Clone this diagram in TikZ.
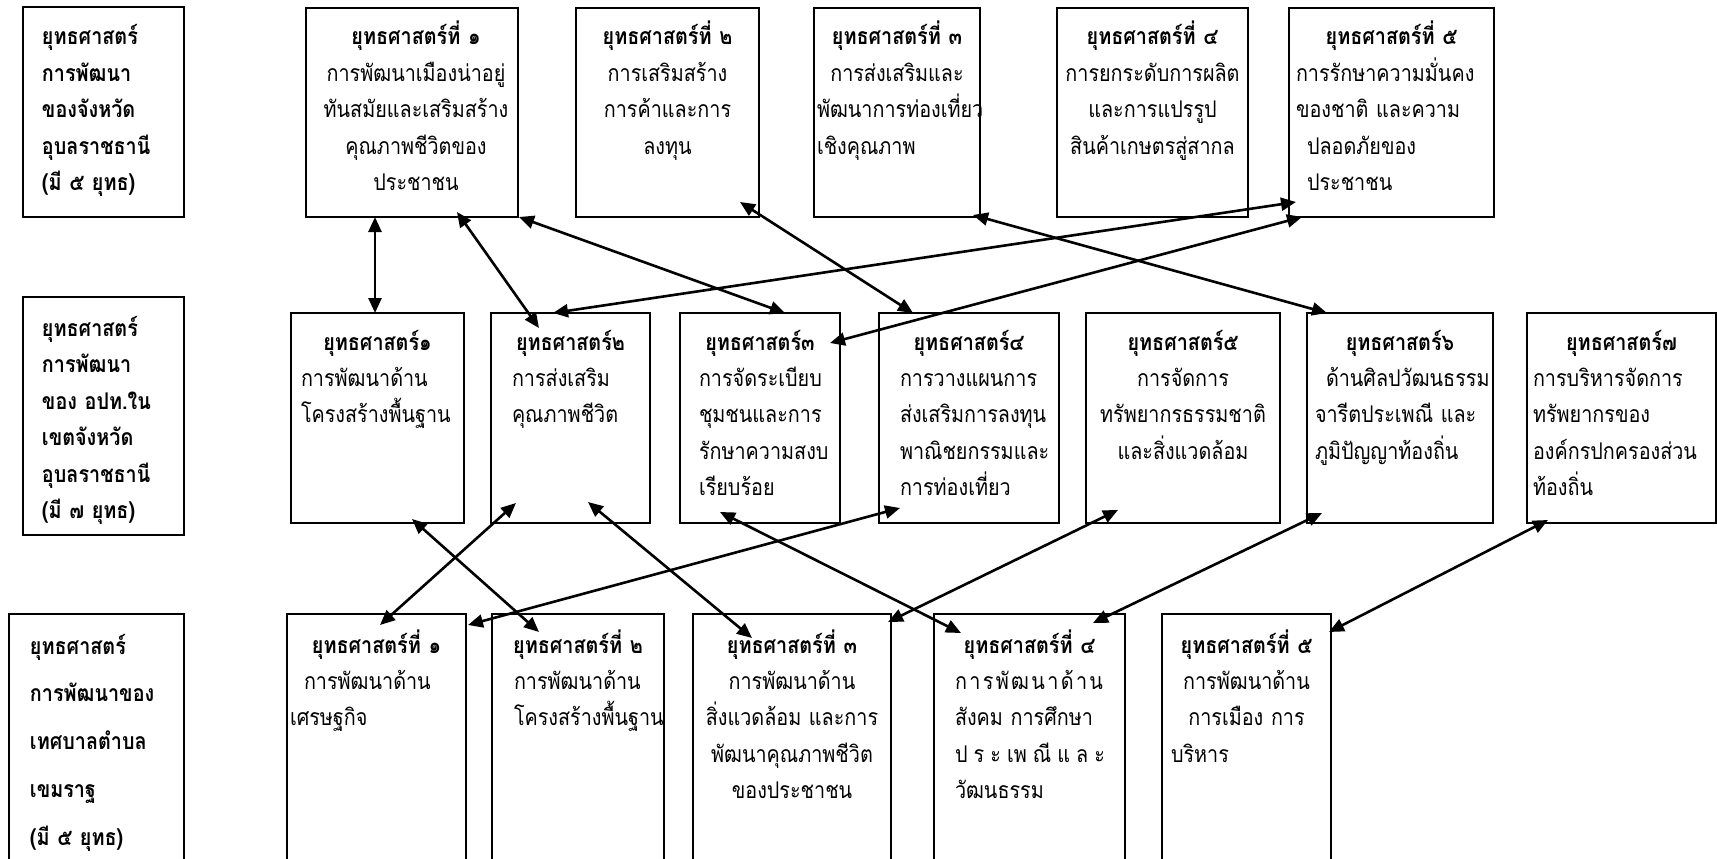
\documentclass[tikz,border=0pt]{standalone}
\usepackage{fontspec}
\newfontfamily\thai[Script=Thai,FakeStretch=0.86]{Loma}
\usetikzlibrary{arrows.meta,calc}
\newcommand\tcen[1]{\makebox[\linewidth][c]{#1}}
\newcommand\tind[2]{\hspace*{#1pt}#2}
\newcommand\fst{\rule{0pt}{24pt}}
\begin{document}
\begin{tikzpicture}[x=1pt,y=-1pt,
 box/.style={draw, line width=1.8pt, rectangle, inner sep=0pt, outer sep=0pt, anchor=north west},
 txt/.style={anchor=north west, inner sep=0pt, outer sep=0pt, align=left, font=\thai\fontsize{23}{36.4}\selectfont},
 lbl/.style={txt, font=\thai\bfseries\fontsize{23}{36.5}\selectfont},
 link/.style={{Triangle[length=15pt,width=13pt]}-{Triangle[length=15pt,width=13pt]}, line width=2.6pt}]
\clip (0,0) rectangle (1717,859);
\fill[white] (0,0) rectangle (1717,859);
% ---------- top row ----------
\node[box, minimum width=161pt, minimum height=210pt] (TL) at (23,7) {};
\node[box, minimum width=212pt, minimum height=209pt] (T1) at (306,8) {};
\node[box, minimum width=183pt, minimum height=209pt] (T2) at (576,8) {};
\node[box, minimum width=166pt, minimum height=209pt] (T3) at (814,8) {};
\node[box, minimum width=191pt, minimum height=209pt] (T4) at (1057,8) {};
\node[box, minimum width=205pt, minimum height=209pt] (T5) at (1289,8) {};
% ---------- middle row ----------
\node[box, minimum width=161pt, minimum height=238pt] (ML) at (23,297) {};
\node[box, minimum width=173pt, minimum height=210pt] (M1) at (291,313) {};
\node[box, minimum width=159pt, minimum height=210pt] (M2) at (491,313) {};
\node[box, minimum width=160pt, minimum height=210pt] (M3) at (680,313) {};
\node[box, minimum width=180pt, minimum height=210pt] (M4) at (879,313) {};
\node[box, minimum width=194pt, minimum height=210pt] (M5) at (1086,313) {};
\node[box, minimum width=186pt, minimum height=210pt] (M6) at (1307,313) {};
\node[box, minimum width=189pt, minimum height=210pt] (M7) at (1527,313) {};
% ---------- bottom row ----------
\node[box, minimum width=175pt, minimum height=260pt] (BL) at (9,614) {};
\node[box, minimum width=179pt, minimum height=260pt] (B1) at (287,614) {};
\node[box, minimum width=172pt, minimum height=260pt] (B2) at (492,614) {};
\node[box, minimum width=198pt, minimum height=260pt] (B3) at (693,614) {};
\node[box, minimum width=191pt, minimum height=260pt] (B4) at (934,614) {};
\node[box, minimum width=169pt, minimum height=260pt] (B5) at (1162,614) {};
% ---------- texts: top ----------
\node[lbl, text width=161pt] (TLt) at ($(TL.north west)+(0,14)$) {\tind{19}{\fst ยุทธศาสตร์}\\ \tind{19}{การพัฒนา}\\ \tind{19}{ของจังหวัด}\\ \tind{19}{อุบลราชธานี}\\ \tind{19}{(มี ๕ ยุทธ)}};
\node[txt, text width=212pt] (T1t) at ($(T1.north west)+(4,13)$) {\tcen{\fst\textbf{ยุทธศาสตร์ที่ ๑}}\\ \tcen{การพัฒนาเมืองน่าอยู่}\\ \tcen{ทันสมัยและเสริมสร้าง}\\ \tcen{คุณภาพชีวิตของ}\\ \tcen{ประชาชน}};
\node[txt, text width=183pt] (T2t) at ($(T2.north west)+(0,13)$) {\tcen{\fst\textbf{ยุทธศาสตร์ที่ ๒}}\\ \tcen{การเสริมสร้าง}\\ \tcen{การค้าและการ}\\ \tcen{ลงทุน}};
\node[txt, text width=166pt] (T3t) at ($(T3.north west)+(0,13)$) {\tcen{\fst\textbf{ยุทธศาสตร์ที่ ๓}}\\ \tcen{การส่งเสริมและ}\\ \tind{3}{พัฒนาการท่องเที่ยว}\\ \tind{3}{เชิงคุณภาพ}};
\node[txt, text width=191pt] (T4t) at ($(T4.north west)+(0,13)$) {\tcen{\fst\textbf{ยุทธศาสตร์ที่ ๔}}\\ \tcen{การยกระดับการผลิต}\\ \tcen{และการแปรรูป}\\ \tcen{สินค้าเกษตรสู่สากล}};
\node[txt, text width=205pt] (T5t) at ($(T5.north west)+(0,13)$) {\tcen{\fst\textbf{ยุทธศาสตร์ที่ ๕}}\\ \tind{7}{การรักษาความมั่นคง}\\ \tind{7}{ของชาติ และความ}\\ \tind{18}{ปลอดภัยของ}\\ \tind{18}{ประชาชน}};
% ---------- texts: middle ----------
\node[lbl, text width=161pt] (MLt) at ($(ML.north west)+(0,15)$) {\tind{19}{\fst ยุทธศาสตร์}\\ \tind{19}{การพัฒนา}\\ \tind{19}{ของ อปท.ใน}\\ \tind{19}{เขตจังหวัด}\\ \tind{19}{อุบลราชธานี}\\ \tind{19}{(มี ๗ ยุทธ)}};
\node[txt, text width=173pt] (M1t) at ($(M1.north west)+(0,13)$) {\tcen{\fst\textbf{ยุทธศาสตร์๑}}\\ \tind{10}{การพัฒนาด้าน}\\ \tind{10}{โครงสร้างพื้นฐาน}};
\node[txt, text width=159pt] (M2t) at ($(M2.north west)+(0,13)$) {\tcen{\fst\textbf{ยุทธศาสตร์๒}}\\ \tind{21}{การส่งเสริม}\\ \tind{21}{คุณภาพชีวิต}};
\node[txt, text width=160pt] (M3t) at ($(M3.north west)+(0,13)$) {\tcen{\fst\textbf{ยุทธศาสตร์๓}}\\ \tind{19}{การจัดระเบียบ}\\ \tind{19}{ชุมชนและการ}\\ \tind{19}{รักษาความสงบ}\\ \tind{19}{เรียบร้อย}};
\node[txt, text width=180pt] (M4t) at ($(M4.north west)+(0,13)$) {\tcen{\fst\textbf{ยุทธศาสตร์๔}}\\ \tind{21}{การวางแผนการ}\\ \tind{21}{ส่งเสริมการลงทุน}\\ \tind{21}{พาณิชยกรรมและ}\\ \tind{21}{การท่องเที่ยว}};
\node[txt, text width=194pt] (M5t) at ($(M5.north west)+(0,13)$) {\tcen{\fst\textbf{ยุทธศาสตร์๕}}\\ \tcen{การจัดการ}\\ \tcen{ทรัพยากรธรรมชาติ}\\ \tcen{และสิ่งแวดล้อม}};
\node[txt, text width=186pt] (M6t) at ($(M6.north west)+(0,13)$) {\tcen{\fst\textbf{ยุทธศาสตร์๖}}\\ \tind{19}{ด้านศิลปวัฒนธรรม}\\ \tind{8}{จารีตประเพณี และ}\\ \tind{8}{ภูมิปัญญาท้องถิ่น}};
\node[txt, text width=189pt] (M7t) at ($(M7.north west)+(0,13)$) {\tcen{\fst\textbf{ยุทธศาสตร์๗}}\\ \tind{6}{การบริหารจัดการ}\\ \tind{6}{ทรัพยากรของ}\\ \tind{6}{องค์กรปกครองส่วน}\\ \tind{6}{ท้องถิ่น}};
% ---------- texts: bottom ----------
\node[lbl, text width=175pt, font=\thai\bfseries\fontsize{23}{47.8}\selectfont] (BLt) at ($(BL.north west)+(0,16)$) {\tind{21}{\fst ยุทธศาสตร์}\\ \tind{21}{การพัฒนาของ}\\ \tind{21}{เทศบาลตำบล}\\ \tind{21}{เขมราฐ}\\ \tind{21}{(มี ๕ ยุทธ)}};
\node[txt, text width=179pt] (B1t) at ($(B1.north west)+(0,15)$) {\tcen{\fst\textbf{ยุทธศาสตร์ที่ ๑}}\\ \tind{17}{การพัฒนาด้าน}\\ \tind{3}{เศรษฐกิจ}};
\node[txt, text width=172pt] (B2t) at ($(B2.north west)+(0,15)$) {\tcen{\fst\textbf{ยุทธศาสตร์ที่ ๒}}\\ \tind{22}{การพัฒนาด้าน}\\ \tind{22}{โครงสร้างพื้นฐาน}};
\node[txt, text width=198pt] (B3t) at ($(B3.north west)+(0,15)$) {\tcen{\fst\textbf{ยุทธศาสตร์ที่ ๓}}\\ \tcen{การพัฒนาด้าน}\\ \tcen{สิ่งแวดล้อม และการ}\\ \tcen{พัฒนาคุณภาพชีวิต}\\ \tcen{ของประชาชน}};
\node[txt, text width=191pt] (B4t) at ($(B4.north west)+(0,15)$) {\tcen{\fst\textbf{ยุทธศาสตร์ที่ ๔}}\\ \tind{21}{\hbox to 148pt{ก\hfill า\hfill ร\hfill พั\hfill ฒ\hfill น\hfill า\hfill ด้\hfill า\hfill น}}\\ \tind{21}{สังคม การศึกษา}\\ \tind{21}{\hbox to 150pt{ป\hfill ร\hfill ะ\hfill เพ\hfill ณี\hfill แ\hfill ล\hfill ะ}}\\ \tind{21}{วัฒนธรรม}};
\node[txt, text width=169pt] (B5t) at ($(B5.north west)+(0,15)$) {\tcen{\fst\textbf{ยุทธศาสตร์ที่ ๕}}\\ \tcen{การพัฒนาด้าน}\\ \tcen{การเมือง การ}\\ \tind{9}{บริหาร}};
% ---------- connectors ----------
\draw[link] ($(T1.north west)+(69,209)$) -- ($(M1.north west)+(84,0)$);
\draw[link] ($(T1.north west)+(151,204)$) -- ($(M2.north west)+(48,15)$);
\draw[link] ($(T1.north west)+(213,209)$) -- ($(M3.north west)+(105,0)$);
\draw[link] ($(T2.north west)+(164,194)$) -- ($(M4.north west)+(34,0)$);
\draw[link] ($(T3.north west)+(159,207)$) -- ($(M6.north west)+(20,0)$);
\draw[link] ($(M2.north west)+(62,0)$) -- ($(T5.north west)+(7,194)$);
\draw[link] ($(M3.north west)+(150,30)$) -- ($(T5.north west)+(13,209)$);
\draw[link] ($(M1.north west)+(121,206)$) -- ($(B2.north west)+(47,18)$);
\draw[link] ($(M2.north west)+(25,190)$) -- ($(B1.north west)+(93,11)$);
\draw[link] ($(M2.north west)+(97,189)$) -- ($(B3.north west)+(59,24)$);
\draw[link] ($(M3.north west)+(40,199)$) -- ($(B4.north west)+(27,19)$);
\draw[link] ($(M4.north west)+(21,195)$) -- ($(B1.north west)+(181,11)$);
\draw[link] ($(M5.north west)+(32,197)$) -- ($(B3.north west)+(195,8)$);
\draw[link] ($(M6.north west)+(15,200)$) -- ($(B4.north west)+(159,9)$);
\draw[link] ($(M7.north west)+(21,207)$) -- ($(B5.north west)+(167,18)$);
\end{tikzpicture}
\end{document}
